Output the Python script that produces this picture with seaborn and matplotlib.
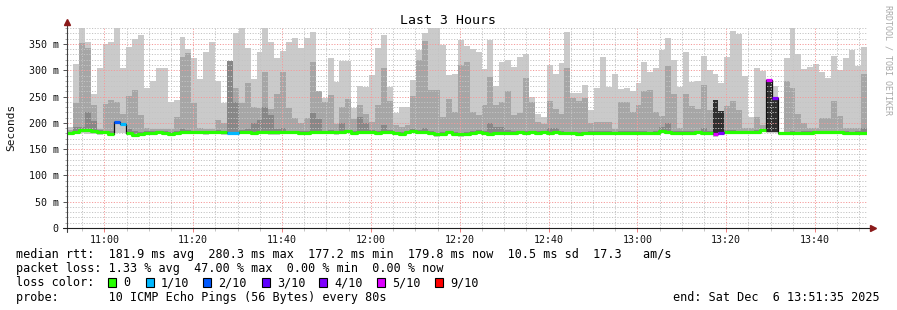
import numpy as np
import pandas as pd
import matplotlib
matplotlib.use("Agg")
import matplotlib.pyplot as plt
import matplotlib.dates as mdates
from matplotlib.ticker import MultipleLocator, FuncFormatter
from matplotlib.patches import Rectangle
import seaborn as sns

# ---------------- data (ms), one value per 80 s step ----------------
start_time = "2025-12-06 10:51:35"
step_seconds = 80

max_rtt = [
    192, 312, 380, 354, 255, 304, 349, 354, 380, 304,
    345, 359, 368, 266, 280, 304, 304, 240, 243, 363,
    340, 323, 283, 335, 354, 280, 238, 318, 371, 380,
    342, 283, 335, 380, 354, 323, 336, 354, 361, 342,
    361, 372, 259, 247, 323, 278, 318, 318, 228, 270,
    268, 291, 342, 367, 268, 219, 230, 230, 282, 339,
    371, 380, 380, 348, 291, 293, 358, 346, 340, 335,
    302, 358, 270, 316, 320, 306, 325, 331, 249, 217,
    211, 310, 293, 313, 372, 257, 256, 272, 224, 266,
    325, 268, 293, 264, 266, 261, 276, 316, 296, 304,
    339, 361, 320, 268, 335, 278, 280, 327, 300, 293,
    276, 325, 375, 369, 289, 212, 304, 299, 283, 271,
    183, 323, 380, 331, 302, 306, 311, 296, 286, 327,
    300, 323, 339, 309, 344,
]

upper_mid = [
    186, 238, 351, 343, 234, 188, 236, 243, 240, 217,
    251, 262, 215, 191, 188, 188, 188, 188, 211, 325,
    332, 238, 190, 188, 188, 205, 200, 318, 266, 237,
    276, 230, 228, 296, 227, 255, 297, 229, 210, 200,
    210, 315, 261, 240, 253, 197, 231, 245, 208, 233,
    216, 202, 233, 305, 242, 196, 193, 195, 252, 320,
    356, 263, 263, 212, 245, 220, 310, 315, 220, 215,
    234, 288, 234, 239, 261, 215, 218, 285, 239, 202,
    197, 242, 226, 216, 305, 248, 242, 248, 199, 201,
    201, 201, 188, 240, 240, 221, 234, 261, 263, 220,
    213, 308, 255, 190, 255, 232, 226, 272, 224, 200,
    200, 232, 242, 224, 190, 190, 212, 196, 190, 190,
    183, 280, 266, 217, 199, 190, 190, 210, 210, 242,
    213, 190, 190, 190, 293,
]

upper_inner = [
    183, 192, 192, 221, 204, 186, 185, 184, 204, 199,
    188, 185, 183, 184, 184, 185, 184, 183, 184, 188,
    186, 185, 185, 185, 185, 186, 185, 318, 240, 186,
    188, 200, 205, 230, 214, 188, 190, 185, 185, 184,
    184, 218, 207, 185, 186, 185, 199, 187, 185, 212,
    199, 186, 185, 195, 186, 183, 182, 185, 188, 186,
    190, 185, 181, 182, 185, 182, 181, 182, 184, 186,
    184, 200, 192, 192, 186, 184, 185, 184, 185, 184,
    185, 191, 191, 184, 183, 183, 182, 183, 184, 184,
    184, 184, 183, 184, 184, 184, 184, 184, 183, 184,
    192, 200, 184, 184, 184, 184, 185, 190, 184, 181,
    183, 186, 186, 185, 185, 185, 186, 189, 281, 247,
    183, 183, 184, 183, 184, 184, 185, 185, 185, 185,
    185, 184, 183, 184, 190,
]

median_rtt = [
    181, 182, 187, 186, 184, 182, 182, 178, 202, 197,
    181, 177, 179, 181, 181, 182, 181, 179, 180, 182,
    182, 182, 182, 182, 182, 182, 182, 181, 181, 182,
    182, 181, 182, 182, 182, 182, 182, 182, 182, 181,
    181, 183, 182, 182, 182, 182, 182, 184, 181, 183,
    182, 182, 181, 182, 182, 180, 179, 182, 184, 183,
    182, 181, 178, 179, 182, 179, 178, 179, 181, 183,
    181, 179, 180, 181, 181, 181, 182, 181, 182, 181,
    182, 181, 182, 181, 180, 180, 179, 180, 181, 181,
    181, 181, 180, 181, 181, 181, 181, 181, 180, 181,
    184, 182, 180, 181, 181, 181, 182, 181, 181, 179,
    181, 183, 183, 182, 182, 182, 183, 186, 281, 247,
    180, 180, 181, 180, 181, 181, 182, 182, 182, 182,
    182, 181, 180, 181, 180,
]

min_rtt = [
    177, 178, 180, 179, 178, 177, 178, 175, 180, 180,
    177, 174, 175, 177, 177, 178, 177, 175, 176, 178,
    178, 178, 178, 177, 178, 178, 177, 177, 177, 178,
    178, 177, 178, 178, 177, 177, 178, 178, 178, 177,
    177, 179, 178, 178, 178, 177, 178, 180, 177, 179,
    178, 178, 177, 178, 178, 176, 175, 178, 180, 179,
    178, 177, 174, 175, 178, 175, 174, 175, 177, 179,
    177, 175, 176, 177, 177, 177, 178, 177, 178, 177,
    178, 177, 178, 177, 176, 176, 175, 176, 177, 177,
    177, 177, 176, 177, 177, 177, 176, 177, 176, 177,
    180, 178, 176, 177, 177, 177, 178, 177, 177, 174,
    176, 179, 179, 178, 178, 178, 179, 182, 180, 180,
    176, 176, 177, 176, 177, 177, 178, 178, 178, 178,
    178, 177, 176, 177, 176,
]

# steps with packet loss (index, lost pings out of 10)
loss_steps = [8, 9, 27, 28, 109, 110, 118, 119]
loss_tenths = [2, 1, 1, 1, 5, 4, 5, 4]

# steps whose smoke is nearly black (few replies)
core_steps = [109, 110, 118, 119]
core_low = [181, 182, 183, 183]
core_high = [243, 223, 281, 247]

loss_labels = ["0", "1/10", "2/10", "3/10", "4/10", "5/10", "9/10"]
loss_levels = [0, 1, 2, 3, 4, 5, 9]
loss_colors = ["#26ff00", "#00b8ff", "#0059ff", "#5e00ff", "#7e00ff", "#dd00ff", "#ff0000"]

# ---------------- figure ----------------
sns.set_theme(style="white")
plt.rcParams["font.family"] = ["DejaVu Sans Mono", "DejaVu Sans"]

W, H = 897, 310
fig = plt.figure(figsize=(W / 100, H / 100), dpi=100)
fig.patch.set_facecolor("white")
ax = fig.add_axes([67 / W, 82 / H, 799.5 / W, 199.8 / H])
ax.set_facecolor("white")

n = len(median_rtt)
edges = pd.date_range(pd.Timestamp(start_time), periods=n + 1, freq=f"{step_seconds}s")
x = edges.to_numpy()
xnum = mdates.date2num(edges.to_pydatetime())
step_days = step_seconds / 86400.0

def ext(a):
    a = np.asarray(a, dtype=float)
    return np.append(a, a[-1])

med = np.asarray(median_rtt, dtype=float)

ax.fill_between(xnum, ext(min_rtt), ext(max_rtt), step="post", color="#cacaca", lw=0, zorder=1)
ax.fill_between(xnum, ext(med), ext(np.maximum(upper_mid, med)), step="post", color="#a6a6a6", lw=0, zorder=1.1)
ax.fill_between(xnum, ext(med), ext(np.maximum(upper_inner, med)), step="post", color="#878787", lw=0, zorder=1.2)

# near-black smoke for steps with heavy loss
core_x = [xnum[i] for i in core_steps]
ax.bar(core_x, np.array(core_high) - np.array(core_low), bottom=core_low, width=step_days,
       align="edge", color="#2f2f2f", lw=0, zorder=1.3)

# thin black median line
sns.lineplot(x=xnum, y=ext(med), drawstyle="steps-post", color="#101010", lw=0.9,
             ax=ax, estimator=None, zorder=3)

# loss-coloured median
loss = np.zeros(n, dtype=int)
for i, l in zip(loss_steps, loss_tenths):
    loss[i] = l
for lvl, col in zip(loss_levels, loss_colors):
    y = np.where(loss == lvl, med, np.nan)
    if np.all(np.isnan(y)):
        continue
    ax.step(xnum, np.append(y, np.nan), where="post", color=col, lw=2.3, zorder=4,
            solid_capstyle="butt")

# ---------------- axes ----------------
ax.xaxis_date()
ax.set_xlim(xnum[0], xnum[-1])
ax.set_ylim(0, 380)
ax.yaxis.set_major_locator(MultipleLocator(50))
ax.yaxis.set_minor_locator(MultipleLocator(10))
ax.yaxis.set_major_formatter(FuncFormatter(lambda v, p: "0" if v == 0 else f"{int(v)} m"))
ax.xaxis.set_major_locator(mdates.MinuteLocator(byminute=[0, 20, 40]))
ax.xaxis.set_minor_locator(mdates.MinuteLocator(byminute=[5, 10, 15, 25, 30, 35, 45, 50, 55]))
ax.xaxis.set_major_formatter(mdates.DateFormatter("%H:%M"))

ax.set_axisbelow(False)
ax.grid(which="minor", color="#c4c4c4", ls=(0, (1.2, 1.6)), lw=0.7)
ax.grid(which="major", color="#f59a9a", ls=(0, (1.2, 1.6)), lw=0.7)
for s in ax.spines.values():
    s.set_visible(False)

ax.tick_params(axis="y", which="major", length=3, width=0.7, color="#555555", pad=3,
               labelsize=7.2, labelcolor="#111111", left=True)
ax.tick_params(axis="y", which="minor", length=1.5, width=0.6, color="#999999", left=True)
ax.tick_params(axis="x", which="major", length=3, width=0.7, color="#f08080", pad=2,
               labelsize=7.2, labelcolor="#111111", bottom=True)
ax.tick_params(axis="x", which="minor", length=2, width=0.6, color="#bbbbbb", bottom=True)
ax.set_xlabel("")
ax.set_ylabel("")

# axis lines with arrow heads
ax.plot([0, 0], [-0.02, 1.03], transform=ax.transAxes, color="#404040", lw=0.8, clip_on=False, zorder=6)
ax.plot([-0.005, 1.006], [0, 0], transform=ax.transAxes, color="#202020", lw=0.8, clip_on=False, zorder=6)
ax.plot([0], [1.033], marker="^", ms=4.5, color="#8b1a1a", transform=ax.transAxes, clip_on=False, zorder=7)
ax.plot([1.008], [0], marker=">", ms=4.5, color="#8b1a1a", transform=ax.transAxes, clip_on=False, zorder=7)

# ---------------- texts ----------------
def ftext(px, py, s, **kw):
    return fig.text(px / W, 1 - py / H, s, **kw)

ftext(448, 24.3, "Last 3 Hours", ha="center", va="baseline", fontsize=9.5, color="#000000")
ftext(11, 127.5, "Seconds", ha="center", va="center", rotation=90, fontsize=8, color="#111111")
ftext(887.5, 60, "RRDTOOL / TOBI OETIKER", ha="center", va="center", rotation=270,
      fontsize=6, color="#a8a8a8")

fs = 8.5
ftext(16, 258.3, "median rtt:  181.9 ms avg  280.3 ms max  177.2 ms min  179.8 ms now  10.5 ms sd  17.3   am/s",
      ha="left", va="baseline", fontsize=fs, color="#000000")
ftext(16, 272.3, "packet loss: 1.33 % avg  47.00 % max  0.00 % min  0.00 % now",
      ha="left", va="baseline", fontsize=fs, color="#000000")
ftext(16, 286.5, "loss color:", ha="left", va="baseline", fontsize=fs, color="#000000")
sw_x = [108.3, 145.7, 203.3, 261.7, 319.3, 376.7, 435.0]
for sx, lab, col in zip(sw_x, loss_labels, loss_colors):
    fig.add_artist(Rectangle((sx / W, 1 - 287 / H), 8 / W, 9 / H, transform=fig.transFigure,
                             facecolor=col, edgecolor="#000000", lw=0.8))
    ftext(sx + 15, 286.5, lab, ha="left", va="baseline", fontsize=fs, color="#000000")
ftext(16, 300.7, "probe:       10 ICMP Echo Pings (56 Bytes) every 80s",
      ha="left", va="baseline", fontsize=fs, color="#000000")
ftext(880, 300.7, "end: Sat Dec  6 13:51:35 2025", ha="right", va="baseline", fontsize=fs, color="#000000")

fig.savefig("out.png", dpi=100, facecolor="white")
